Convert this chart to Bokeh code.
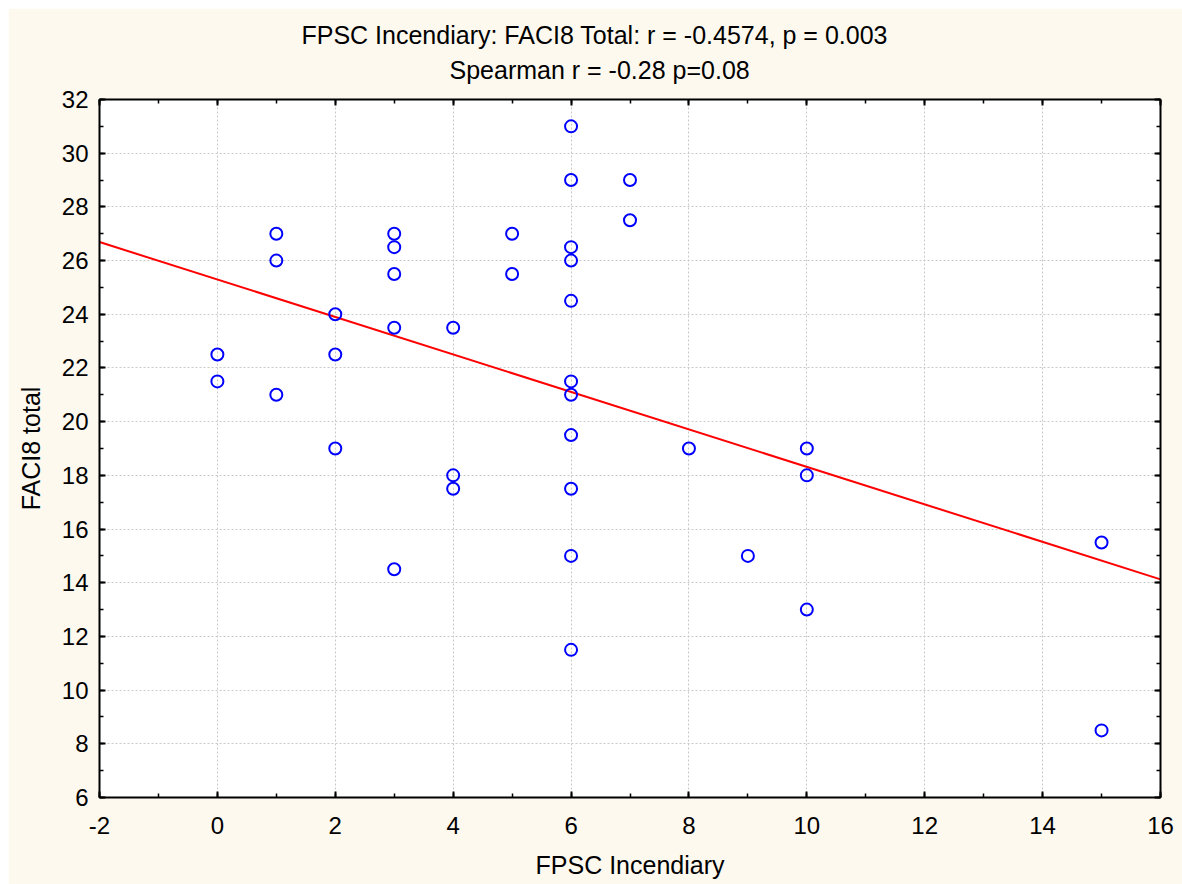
import numpy as np
from bokeh.plotting import figure
from bokeh.layouts import row, column
from bokeh.models import (Range1d, LinearAxis, SingleIntervalTicker, Title,
                          ColumnDataSource, Spacer)
from bokeh.embed import file_html
from bokeh.resources import INLINE

# ---- data ----
fpsc_incendiary = [0, 0, 1, 1, 1, 2, 2, 2, 3, 3, 3, 3, 3, 4, 4, 4, 5, 5,
                   6, 6, 6, 6, 6, 6, 6, 6, 6, 6, 6, 7, 7, 8, 9, 10, 10, 10, 15, 15]
faci8_total = [22.5, 21.5, 27, 26, 21, 24, 22.5, 19, 27, 26.5, 25.5, 23.5, 14.5,
               23.5, 18, 17.5, 27, 25.5,
               31, 29, 26.5, 26, 24.5, 21.5, 21, 19.5, 17.5, 15, 11.5,
               29, 27.5, 19, 15, 19, 18, 13, 15.5, 8.5]
x_limits = [-2, 16]
y_limits = [6, 32]
title_line1 = "FPSC Incendiary: FACI8 Total: r = -0.4574, p = 0.003"
title_line2 = "Spearman r = -0.28 p=0.08"
x_label = "FPSC Incendiary"
y_label = "FACI8 total"

FONT = "Liberation Sans"
FS_TITLE = "25px"
FS_LABEL = "25px"
FS_TICK = "24px"
BG = "#FDF9EF"

p = figure(width=1174, height=876, output_backend="svg", toolbar_location=None,
           x_range=Range1d(*x_limits), y_range=Range1d(*y_limits),
           min_border_left=91, min_border_right=22, min_border_top=91, min_border_bottom=87)
p.title.visible = False
p.background_fill_color = "white"
p.border_fill_color = BG
p.outline_line_color = None


def style_axis(ax, labels=True):
    ax.ticker = SingleIntervalTicker(interval=2, num_minor_ticks=2)
    ax.axis_line_color = "black"
    ax.axis_line_width = 2
    ax.major_tick_line_color = "black"
    ax.major_tick_line_width = 2
    ax.minor_tick_line_color = "black"
    ax.minor_tick_line_width = 1.5
    ax.major_tick_in = 6
    ax.major_tick_out = 0
    ax.minor_tick_in = 4
    ax.minor_tick_out = 0
    ax.major_label_text_font = FONT
    ax.axis_label_text_font = FONT
    ax.axis_label_text_font_style = "normal"
    ax.axis_label_text_font_size = FS_LABEL
    ax.axis_label_text_color = "black"
    if labels:
        ax.major_label_text_font_size = FS_TICK
        ax.major_label_text_color = "black"
    else:
        ax.major_label_text_font_size = "0px"
        ax.major_label_text_color = None
        ax.major_label_standoff = 0
        ax.axis_label_standoff = 0


style_axis(p.xaxis[0])
style_axis(p.yaxis[0])
p.xaxis[0].axis_label = x_label
p.yaxis[0].axis_label = y_label
p.xaxis[0].major_label_overrides = {-2: "-2"}
p.xaxis[0].major_label_standoff = 19
p.xaxis[0].axis_label_standoff = 14
p.yaxis[0].major_label_standoff = 11
p.yaxis[0].axis_label_standoff = 14

top_ax = LinearAxis()
right_ax = LinearAxis()
style_axis(top_ax, labels=False)
style_axis(right_ax, labels=False)
p.add_layout(top_ax, "above")
p.add_layout(right_ax, "right")

t2 = Title(text=title_line2, align="left", vertical_align="bottom", text_font=FONT,
           text_font_size=FS_TITLE, text_font_style="normal", text_color="black",
           standoff=31, offset=350)
t1 = Title(text=title_line1, align="left", vertical_align="bottom", text_font=FONT,
           text_font_size=FS_TITLE, text_font_style="normal", text_color="black",
           standoff=-21, offset=202)
p.add_layout(t2, "above")
p.add_layout(t1, "above")

for g in (p.xgrid[0], p.ygrid[0]):
    g.ticker = SingleIntervalTicker(interval=2)
    g.grid_line_color = "#c8c8c8"
    g.grid_line_dash = "2 2"
    g.grid_line_width = 1

# regression line from the data
slope, intercept = np.polyfit(fpsc_incendiary, faci8_total, 1)
fit_x = np.array(x_limits, dtype=float)
p.line(fit_x, intercept + slope * fit_x, line_color="#FF0000", line_width=2)

src = ColumnDataSource(dict(x=fpsc_incendiary, y=faci8_total))
p.scatter("x", "y", source=src, marker="circle", size=12, fill_color=None,
          line_color="#0000FF", line_width=2)

layout = row(Spacer(width=8, height=884), column(Spacer(width=1174, height=8), p))
open("out.html", "w").write(file_html(layout, INLINE))
